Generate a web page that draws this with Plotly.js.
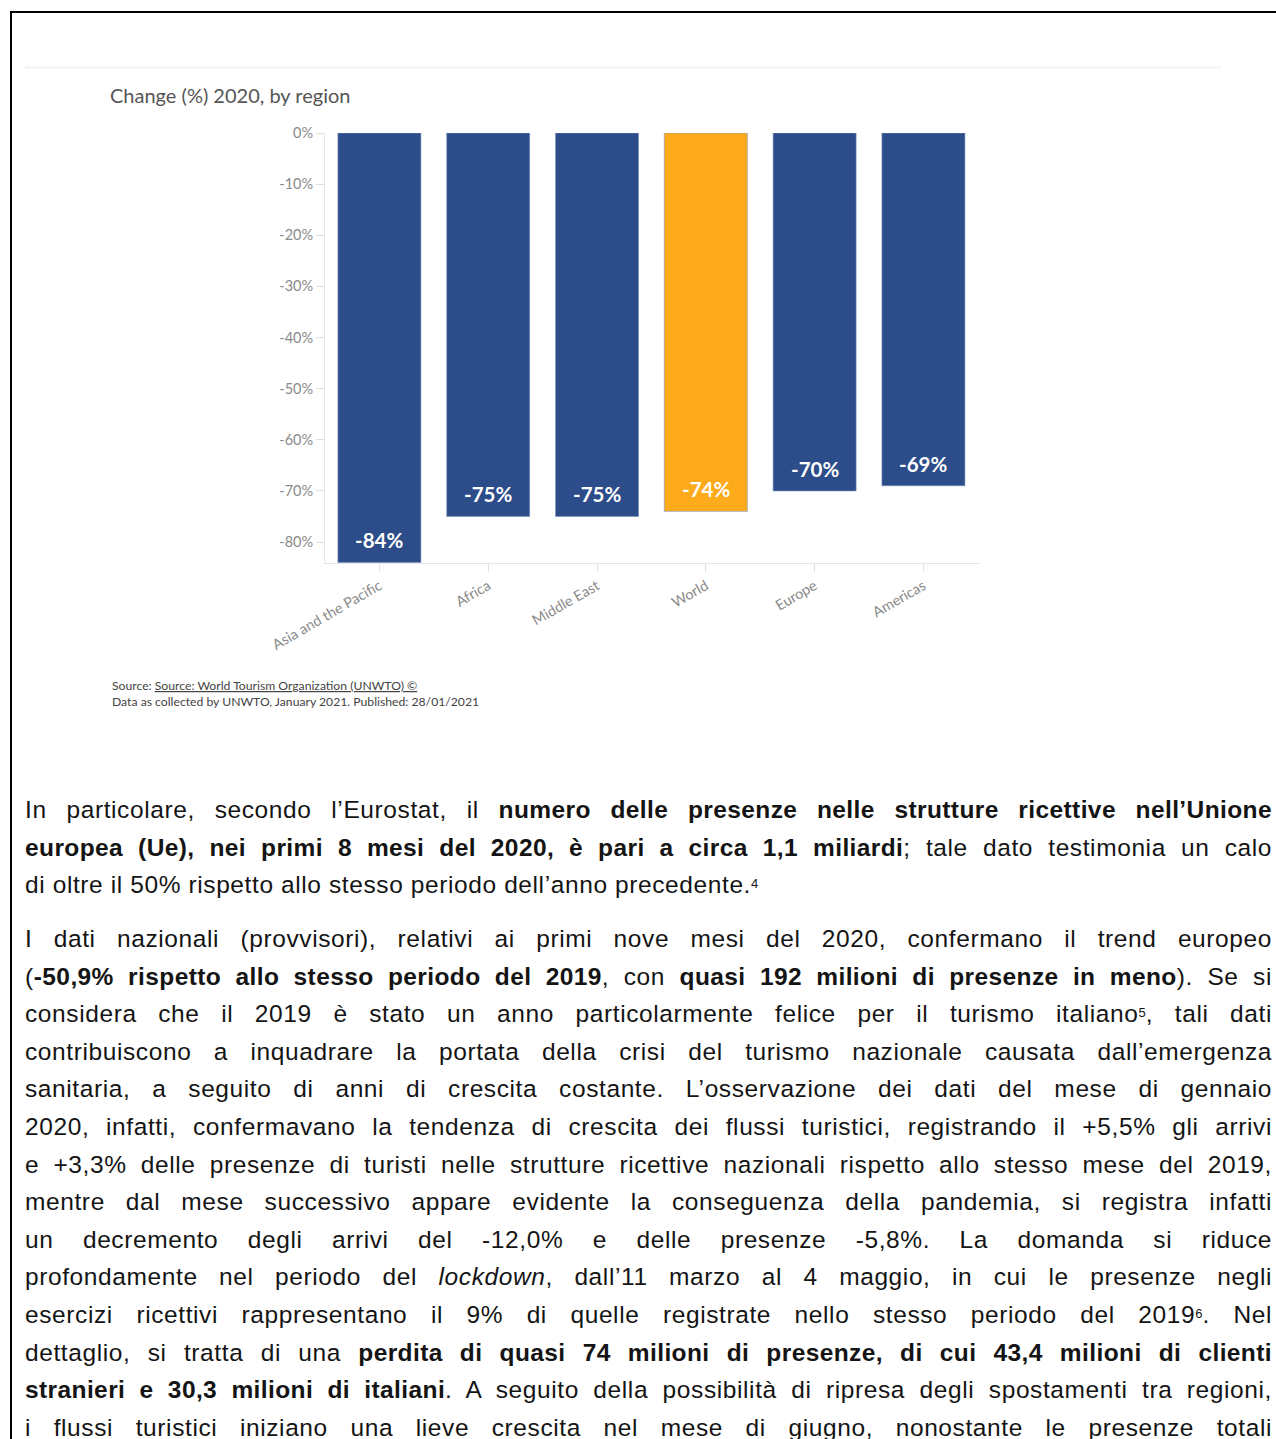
<!DOCTYPE html>
<html>
<head>
<meta charset="utf-8">
<script src="https://cdn.plot.ly/plotly-3.0.1.min.js"></script>
<style>
  html, body { margin: 0; padding: 0; background: #fff; width: 1276px; height: 1439px; overflow: hidden; }
  #frame { position: absolute; left: 10px; top: 11px; width: 1300px; height: 1500px; border-left: 2px solid #000; border-top: 2px solid #000; }
  #chart { position: absolute; left: 0; top: 0; width: 1276px; height: 730px; }
  .ln { position: absolute; left: 25px; width: 1247px; height: 38px; line-height: 38px; white-space: nowrap;
        font-family: "Liberation Sans", Arial, sans-serif; font-size: 24.5px; color: #141414;
        text-align: justify; text-align-last: justify; letter-spacing: 0.6px; }
  .ln.last { text-align-last: left; }
  .ln b { font-weight: bold; letter-spacing: 0.4px; }
  .ln sup { font-size: 13px; vertical-align: 0; position: relative; top: -5px; letter-spacing: 0; }
</style>
</head>
<body>
<div id="frame"></div>
<div id="chart"></div>
<div id="text"></div>
<script>
// ---- chart data ----
const regions = ['Asia and the Pacific', 'Africa', 'Middle East', 'World', 'Europe', 'Americas'];
const changePct = [-84, -75, -75, -74, -70, -69];
const yTickVals = [0, -10, -20, -30, -40, -50, -60, -70, -80];
const yTickText = ['0%', '-10%', '-20%', '-30%', '-40%', '-50%', '-60%', '-70%', '-80%'];
const highlightRegion = 'World';

const chartTitle = 'Change (%) 2020, by region';
const sourceLine1 = 'Source: <u>Source: World Tourism Organization (UNWTO) ©</u>';
const sourceLine2 = 'Data as collected by UNWTO, January 2021. Published: 28/01/2021';

// ---- body text ----
const para1 = [
  'In particolare, secondo l’Eurostat, il <b>numero delle presenze nelle strutture ricettive nell’Unione</b>',
  '<b>europea (Ue), nei primi 8 mesi del 2020, è pari a circa 1,1 miliardi</b>; tale dato testimonia un calo',
  'di oltre il 50% rispetto allo stesso periodo dell’anno precedente.<sup>4</sup>'
];
const para2 = [
  'I dati nazionali (provvisori), relativi ai primi nove mesi del 2020, confermano il trend europeo',
  '(<b>-50,9% rispetto allo stesso periodo del 2019</b>, con <b>quasi 192 milioni di presenze in meno</b>). Se si',
  'considera che il 2019 è stato un anno particolarmente felice per il turismo italiano<sup>5</sup>, tali dati',
  'contribuiscono a inquadrare la portata della crisi del turismo nazionale causata dall’emergenza',
  'sanitaria, a seguito di anni di crescita costante. L’osservazione dei dati del mese di gennaio',
  '2020, infatti, confermavano la tendenza di crescita dei flussi turistici, registrando il +5,5% gli arrivi',
  'e +3,3% delle presenze di turisti nelle strutture ricettive nazionali rispetto allo stesso mese del 2019,',
  'mentre dal mese successivo appare evidente la conseguenza della pandemia, si registra infatti',
  'un decremento degli arrivi del -12,0% e delle presenze -5,8%. La domanda si riduce',
  'profondamente nel periodo del <i>lockdown</i>, dall’11 marzo al 4 maggio, in cui le presenze negli',
  'esercizi ricettivi rappresentano il 9% di quelle registrate nello stesso periodo del 2019<sup>6</sup>. Nel',
  'dettaglio, si tratta di una <b>perdita di quasi 74 milioni di presenze, di cui 43,4 milioni di clienti</b>',
  '<b>stranieri e 30,3 milioni di italiani</b>. A seguito della possibilità di ripresa degli spostamenti tra regioni,',
  'i flussi turistici iniziano una lieve crescita nel mese di giugno, nonostante le presenze totali'
];

// ---- layout constants (pixels) ----
const W = 1276, H = 730;
const plotL = 325, plotR = 980, plotT = 133, plotB = 563;
const px2x = p => (p - plotL) / (plotR - plotL);
const px2y = p => (plotB - p) / (plotB - plotT);

const BLUE = '#2c4c8a', ORANGE = '#fdab1b';
const barColors = regions.map(r => r === highlightRegion ? ORANGE : BLUE);

const trace = {
  type: 'bar',
  x: regions,
  y: changePct,
  marker: { color: barColors, line: { color: 'rgba(120,145,190,0.6)', width: 1 } },
  hoverinfo: 'x+y',
  showlegend: false
};

const barLabels = regions.map((r, i) => ({
  x: r, y: changePct[i], xref: 'x', yref: 'y',
  text: changePct[i] + '%', showarrow: false,
  yanchor: 'bottom', yshift: 8,
  font: { family: 'Lato, sans-serif', size: 20.5, color: '#ffffff', weight: 'bold' }
}));

const layout = {
  width: W, height: H,
  margin: { l: plotL, r: W - plotR, t: plotT, b: H - plotB, pad: 0 },
  paper_bgcolor: 'rgba(0,0,0,0)',
  plot_bgcolor: 'rgba(0,0,0,0)',
  bargap: 0.237,
  title: {
    text: chartTitle,
    xref: 'container', yref: 'container',
    x: 110 / W, xanchor: 'left',
    y: 1 - 96 / H, yanchor: 'middle',
    font: { family: 'Lato, sans-serif', size: 20, color: '#555555' }
  },
  xaxis: {
    range: [-0.5, 5.52],
    showgrid: false, zeroline: false,
    showline: true, linecolor: '#e6e6e6', linewidth: 1,
    ticks: 'outside', ticklen: 8, tickcolor: '#e0e0e0',
    tickangle: -30,
    tickfont: { family: 'Lato, sans-serif', size: 14.5, color: '#8a8a8a' },
    fixedrange: true
  },
  yaxis: {
    range: [-84.1, 0],
    tickmode: 'array', tickvals: yTickVals, ticktext: yTickText,
    showgrid: false, zeroline: false,
    showline: true, linecolor: '#e6e6e6', linewidth: 1,
    ticks: 'outside', ticklen: 8, tickcolor: '#e0e0e0',
    tickfont: { family: 'Lato, sans-serif', size: 14.5, color: '#8a8a8a' },
    fixedrange: true
  },
  shapes: [{
    type: 'line', xref: 'paper', yref: 'paper',
    x0: px2x(25), x1: px2x(1221), y0: px2y(67.5), y1: px2y(67.5),
    line: { color: '#f2f2f2', width: 2 }
  }],
  annotations: barLabels.concat([
    { xref: 'paper', yref: 'paper', x: px2x(110), y: px2y(685), xanchor: 'left', yanchor: 'middle',
      text: sourceLine1, showarrow: false, font: { family: 'Lato, sans-serif', size: 12.2, color: '#444444' } },
    { xref: 'paper', yref: 'paper', x: px2x(110), y: px2y(701), xanchor: 'left', yanchor: 'middle',
      text: sourceLine2, showarrow: false, font: { family: 'Lato, sans-serif', size: 12.2, color: '#444444' } }
  ])
};

Plotly.newPlot('chart', [trace], layout, { displayModeBar: false, staticPlot: true });

// ---- render body text lines ----
const textBox = document.getElementById('text');
function addPara(lines, firstCenter, lastIsLeft) {
  const step = 37.6;
  lines.forEach((html, i) => {
    const d = document.createElement('div');
    d.className = 'ln' + (lastIsLeft && i === lines.length - 1 ? ' last' : '');
    d.style.top = (firstCenter + i * step - 19) + 'px';
    d.innerHTML = html;
    textBox.appendChild(d);
  });
}
addPara(para1, 810, true);
addPara(para2, 939, false);
</script>
</body>
</html>
